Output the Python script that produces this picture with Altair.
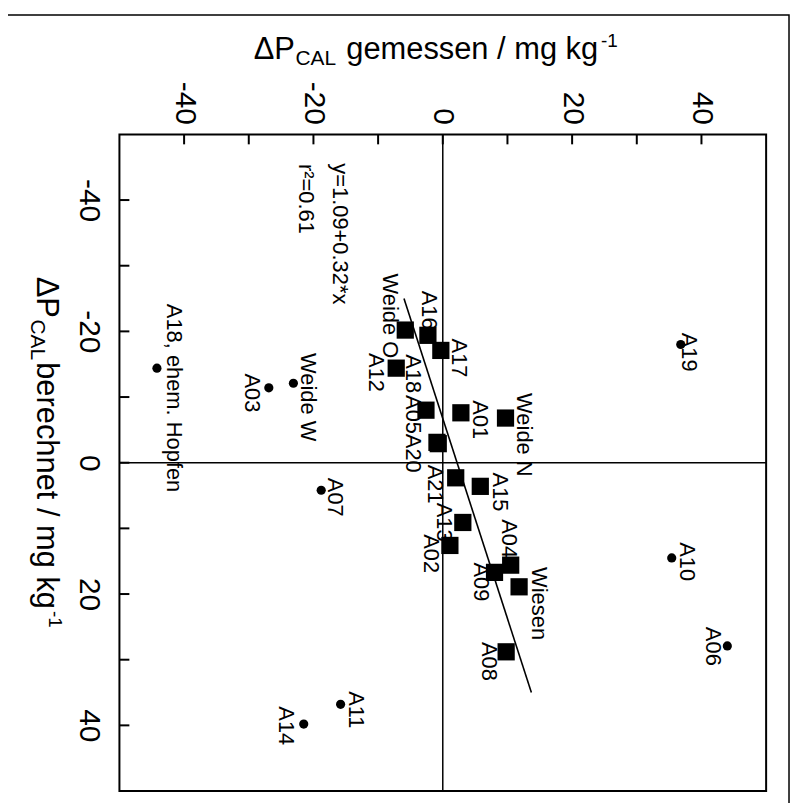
import altair as alt
import pandas as pd

FONT = "Liberation Sans"

# Squares: sites used for the regression
sq_site = ["Weide O", "A16", "A17", "A12", "A18", "A01", "Weide N", "A05", "A20",
           "A21", "A15", "A13", "A02", "A04", "A09", "Wiesen", "A08"]
sq_gemessen = [-5.8, -2.3, -0.3, -7.2, -2.6, 2.8, 9.7, -0.9, -0.7,
               2.0, 5.8, 3.1, 1.1, 10.5, 8.0, 11.8, 9.8]
sq_berechnet = [-20.2, -19.4, -17.1, -14.4, -8.0, -7.6, -6.8, -3.1, -2.9,
                2.3, 3.6, 9.1, 12.6, 15.6, 16.7, 18.9, 28.8]
sq_label_g = [-8.15, -2.15, 2.46, -10.3, -4.6, 5.7, 12.5, -4.6, -4.6,
              -1.2, 8.8, 0.15, -1.85, 10.3, 5.85, 14.9, 7.2]
sq_label_b = [-28.8, -26.2, -18.9, -16.7, -16.5, -9.5, -10.6, -10.3, -4.4,
              0.3, 1.5, 6.1, 10.9, 8.6, 15.2, 15.9, 27.3]

# Circles: outlying sites
ci_site = ["A18, ehem. Hopfen", "A03", "Weide W", "A07", "A11", "A14", "A19", "A10", "A06"]
ci_gemessen = [-44.2, -26.9, -23.1, -18.8, -15.8, -21.5, 36.8, 35.4, 44.0]
ci_berechnet = [-14.4, -11.4, -12.1, 4.2, 36.8, 39.8, -18.0, 14.5, 27.9]
ci_label_g = [-41.5, -29.5, -20.9, -16.6, -13.5, -24.2, 38.0, 37.7, 41.8]
ci_label_b = [-24.2, -13.6, -16.7, 2.3, 34.8, 37.1, -19.8, 12.1, 25.0]

# regression line end points
reg_gemessen = [-6.0, 13.7]
reg_berechnet = [-25.0, 35.0]

# equation annotation
eq_text = ["y=1.09+0.32*x", "r²=0.61"]
eq_g = [-15.85, -21.2]
eq_b = [-45.6, -45.5]

tick_values = [-40, -30, -20, -10, 0, 10, 20, 30, 40]
label_values = [-40, -20, 0, 20, 40]

sq = pd.DataFrame({"site": sq_site, "g": sq_gemessen, "b": sq_berechnet})
sq_lab = pd.DataFrame({"site": sq_site, "g": sq_label_g, "b": sq_label_b})
ci = pd.DataFrame({"site": ci_site, "g": ci_gemessen, "b": ci_berechnet})
ci_lab = pd.DataFrame({"site": ci_site, "g": ci_label_g, "b": ci_label_b})
reg = pd.DataFrame({"g": reg_gemessen, "b": reg_berechnet})
eq = pd.DataFrame({"t": eq_text, "g": eq_g, "b": eq_b})
ticks_g = pd.DataFrame({"g": tick_values})
ticks_b = pd.DataFrame({"b": tick_values})
zero_g = pd.DataFrame({"g": [0]})
zero_b = pd.DataFrame({"b": [0]})

xs = alt.Scale(domain=[-50, 50], nice=False, zero=False)
ys = alt.Scale(domain=[-50, 50], nice=False, zero=False, reverse=True)

x_axis = alt.Axis(orient="top", values=label_values, labelAngle=90, labelAlign="right",
                  labelBaseline="middle", labelFontSize=30, labelFont=FONT, labelColor="black",
                  labelPadding=10, ticks=False, tickSize=0, domain=False, grid=False,
                  title=None, labelOverlap=False, labelFlush=False,
                  labelExpr="'' + datum.value")
y_axis = alt.Axis(orient="left", values=label_values, labelAngle=90, labelAlign="center",
                  labelBaseline="top", labelFontSize=30, labelFont=FONT, labelColor="black",
                  labelPadding=16, ticks=False, tickSize=0, domain=False, grid=False,
                  title=None, labelOverlap=False, labelFlush=False,
                  labelExpr="'' + datum.value")

X = lambda: alt.X("g:Q", scale=xs, axis=x_axis)
Y = lambda: alt.Y("b:Q", scale=ys, axis=y_axis)

squares = alt.Chart(sq).mark_point(shape="square", filled=True, size=300, color="black", opacity=1).encode(
    x=X(), y=Y())
circles = alt.Chart(ci).mark_point(shape="circle", filled=True, size=85, color="black", opacity=1).encode(
    x=X(), y=Y())

line = alt.Chart(reg).mark_line(color="black", strokeWidth=1.6).encode(x=X(), y=Y())

vzero = alt.Chart(zero_g).mark_rule(color="black", strokeWidth=1.5).encode(x=X())
hzero = alt.Chart(zero_b).mark_rule(color="black", strokeWidth=1.5).encode(y=Y())

tick_top = alt.Chart(ticks_g).mark_rule(color="black", strokeWidth=2).encode(
    x=X(), y=alt.value(0), y2=alt.value(10))
tick_left = alt.Chart(ticks_b).mark_rule(color="black", strokeWidth=2).encode(
    y=Y(), x=alt.value(0), x2=alt.value(10))

lab_style = dict(font=FONT, fontSize=22, angle=90, align="left", baseline="middle", color="black")
sq_text = alt.Chart(sq_lab).mark_text(**lab_style).encode(x=X(), y=Y(), text="site:N")
ci_text = alt.Chart(ci_lab).mark_text(**lab_style).encode(x=X(), y=Y(), text="site:N")
eq_layer = alt.Chart(eq).mark_text(**lab_style).encode(x=X(), y=Y(), text="t:N")


def piece(s, x, y, size, angle=None):
    kw = dict(font=FONT, fontSize=size, align="left", baseline="alphabetic", color="black")
    if angle is not None:
        kw["angle"] = angle
    return alt.Chart(pd.DataFrame({"t": [s]})).mark_text(**kw).encode(
        x=alt.value(x), y=alt.value(y), text="t:N")


top_title = [
    piece("ΔP", 135, -76, 31),
    piece("CAL", 177, -70, 21),
    piece("gemessen / mg kg", 228, -76, 31),
    piece("-1", 484, -88, 19),
]
left_title = [
    piece("ΔP", -83, 143, 31, 90),
    piece("CAL", -89, 186, 21, 90),
    piece("berechnet / mg kg", -83, 229, 31, 90),
    piece("-1", -71, 479, 19, 90),
]

border = alt.Chart(pd.DataFrame({"a": [0]})).mark_rect(
    fillOpacity=0, stroke="black", strokeWidth=1.5).encode(
    x=alt.value(-117), x2=alt.value(673), y=alt.value(-120), y2=alt.value(700))

chart = alt.layer(
    squares, vzero, hzero, tick_top, tick_left, line, circles,
    sq_text, ci_text, eq_layer, *top_title, *left_title, border,
).properties(
    width=650, height=660,
    autosize=alt.AutoSizeParams(type="none"),
    padding={"left": 112, "top": 125, "right": 25, "bottom": 10},
).configure_view(stroke="black", strokeWidth=2)

chart.save("out.html", embed_options={"renderer": "svg", "actions": False})
